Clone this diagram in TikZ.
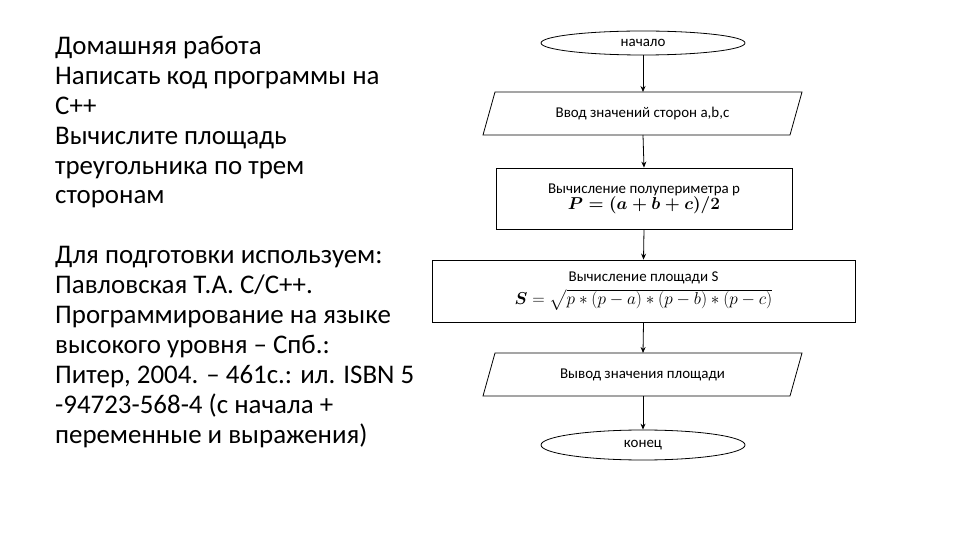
\documentclass[tikz,border=0pt]{standalone}
\usepackage{fontspec}
\setmainfont{Carlito}
\usepackage{amsmath}
\usetikzlibrary{shapes.geometric,arrows.meta}
\begin{document}
\begin{tikzpicture}[x=1bp,y=-1bp,
  box/.style={draw,line width=0.8bp},
  lbl/.style={font=\fontsize{15}{18}\selectfont},
  arr/.style={-{Stealth[length=6bp,width=5bp]},line width=0.8bp}]
\useasboundingbox[fill=white] (0,0) rectangle (960,540);
\node[anchor=north west,align=left,font=\fontsize{27}{30}\selectfont,inner sep=0] (txt) at (55,36)
{Домашняя работа\\Написать код программы на\\С++\\Вычислите площадь\\треугольника по трем\\сторонам\\[30bp]
Для подготовки используем:\\Павловская Т.А. С/С++.\\Программирование на языке\\высокого уровня – Спб.:\\Питер, 2004. – 461с.: ил. ISBN 5\\-94723-568-4 (с начала +\\переменные и выражения)};
% start
\node[box,ellipse,minimum width=204bp,minimum height=24bp,inner sep=0,lbl] (s) at (643,43) {начало};
% input
\draw[box] (495,92) -- (802,92) -- (790,135) -- (483,135) -- cycle;
\node[lbl] (in) at (642.5,113.5) {Ввод значений сторон a,b,c};
\coordinate (inT) at (643,92); \coordinate (inB) at (643,135);
% rect1
\node[box,minimum width=296bp,minimum height=61bp,align=center,lbl,inner sep=0] (r1) at (644,198.5)
{Вычисление полупериметра p\\[-2bp]{\fontsize{18}{20}\selectfont$\boldsymbol{P=(a+b+c)/2}$}};
% rect2
\node[box,minimum width=423bp,minimum height=62bp,align=center,lbl,inner sep=0] (r2) at (643.5,291)
{Вычисление площади S\\[4bp]{\fontsize{18}{20}\selectfont$\boldsymbol{S}=\sqrt{p*(p-a)*(p-b)*(p-c)}$}};
% output
\draw[box] (495,353) -- (802,353) -- (790,396) -- (483,396) -- cycle;
\node[lbl] (out) at (642.5,374.5) {Вывод значения площади};
\coordinate (outT) at (643,353); \coordinate (outB) at (643,396);
% end
\node[box,ellipse,minimum width=204bp,minimum height=30bp,inner sep=0,lbl] (e) at (643,445) {конец};
\draw[arr] (s.south) -- (inT);
\draw[arr] (inB) -- (r1.north);
\draw[arr] (r1.south) -- (r2.north);
\draw[arr] (r2.south) -- (outT);
\draw[arr] (outB) -- (e.north);
\end{tikzpicture}
\end{document}
